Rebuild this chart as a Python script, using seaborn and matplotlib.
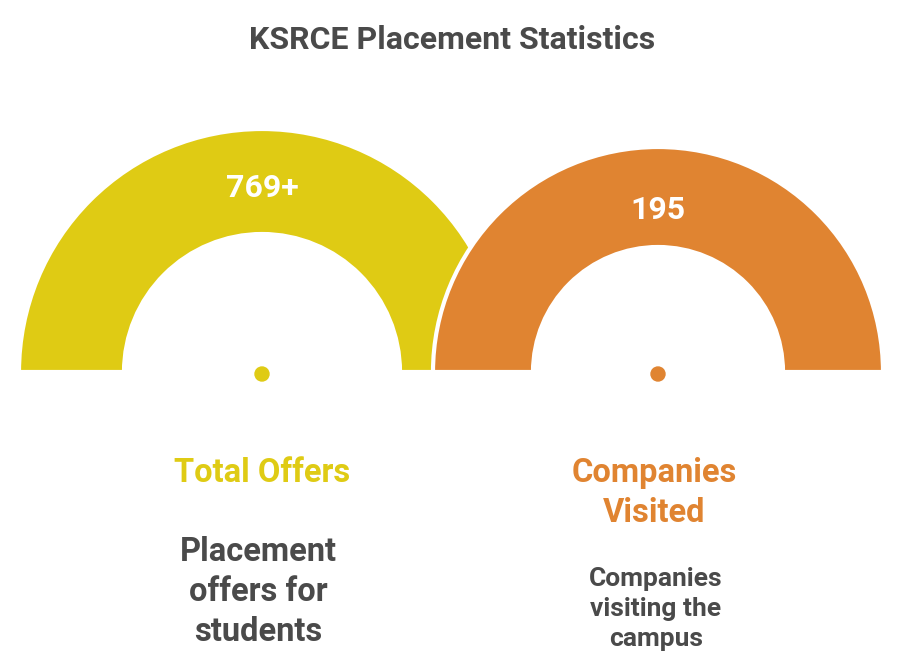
import matplotlib
matplotlib.use("Agg")
import matplotlib.pyplot as plt
from matplotlib.patches import Wedge, Circle
import seaborn as sns

sns.set_theme(style="white")
plt.rcParams['font.family'] = ['Roboto', 'DejaVu Sans']

title = "KSRCE Placement Statistics"
values = ["769+", "195"]
labels = ["Total Offers", "Companies\nVisited"]
descriptions = ["Placement\noffers for\nstudents", "Companies\nvisiting the\ncampus"]
colors = ["#DFCB14", "#E08431"]
text_grey = "#4A4A4A"

W, H = 908, 669
fig = plt.figure(figsize=(W / 100, H / 100), dpi=100)
ax = fig.add_axes([0, 0, 1, 1])
ax.set_xlim(0, W)
ax.set_ylim(0, H)
ax.axis("off")

def Y(py):
    return H - py

gauges = [dict(cx=262, cy=372, ro=243, ri=138, ty=188), dict(cx=658, cy=372, ro=225, ri=125, ty=210)]
for i, g in enumerate(gauges):
    ax.add_patch(Wedge((g["cx"], Y(g["cy"])), g["ro"], 0, 180, width=g["ro"] - g["ri"],
                       facecolor=colors[i], edgecolor="white", linewidth=3, zorder=2 + i))
    ax.add_patch(Circle((g["cx"], Y(g["cy"] + 2)), 7, color=colors[i], zorder=5))
    ax.text(g["cx"], Y(g["ty"]), values[i], color="white", fontsize=23,
            fontweight="bold", ha="center", va="center", zorder=6)

ax.text(452, Y(40), title, fontsize=23, fontweight="bold", color=text_grey, ha="center", va="center")

ax.text(262, Y(473), labels[0], fontsize=23.5, fontweight="bold", color=colors[0], ha="center", va="center")
ax.text(654, Y(493), labels[1], fontsize=23.5, fontweight="bold", color=colors[1], ha="center", va="center",
        linespacing=1.3)
ax.text(258, Y(592), descriptions[0], fontsize=23.5, fontweight="bold", color=text_grey, ha="center",
        va="center", linespacing=1.33)
ax.text(656, Y(609), descriptions[1], fontsize=19, fontweight="bold", color=text_grey, ha="center",
        va="center", linespacing=1.3)

fig.savefig("out.png", dpi=100, facecolor="white")
